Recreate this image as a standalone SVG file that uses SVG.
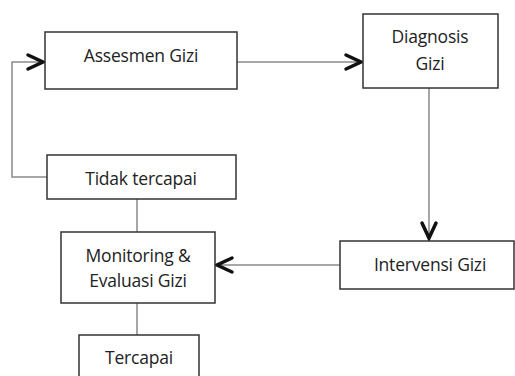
<svg xmlns="http://www.w3.org/2000/svg" width="515" height="376" viewBox="0 0 515 376">
<style>
.box{fill:#fff;stroke:#333;stroke-width:1.5}
.t{font-family:"Open Sans","Liberation Sans",sans-serif;font-size:17.5px;fill:#222;text-anchor:middle;letter-spacing:-0.2px}
.ln{fill:none;stroke:#8a8a8a;stroke-width:1.5}
.ah{fill:none;stroke:#111;stroke-width:3.5;stroke-linecap:round;stroke-linejoin:miter}
</style>
<g id="connectors">
<path class="ln" d="M47,177 H12 V62 H44"/>
<path class="ah" d="M28,55 L43,62 L28,69"/>
<path class="ln" d="M237,62 H362"/>
<path class="ah" d="M346,55 L361,62 L346,69"/>
<path class="ln" d="M429,88 V239"/>
<path class="ah" d="M422,223 L429,238 L436,223"/>
<path class="ln" d="M340,265 H217"/>
<path class="ah" d="M232,258 L217,265 L232,272"/>
<path class="ln" d="M137,199 V232"/>
<path class="ln" d="M137,303 V335"/>
</g>
<g id="assesmen"><rect class="box" x="45" y="32" width="192" height="57"/><text class="t" x="141" y="62">Assesmen Gizi</text></g>
<g id="diagnosis"><rect class="box" x="363" y="14" width="135" height="74"/><text class="t" x="430" y="43">Diagnosis</text><text class="t" x="430" y="70">Gizi</text></g>
<g id="tidak"><rect class="box" x="47" y="155" width="189" height="44"/><text class="t" x="141" y="185">Tidak tercapai</text></g>
<g id="intervensi"><rect class="box" x="340" y="241" width="174" height="48"/><text class="t" x="430" y="271">Intervensi Gizi</text></g>
<g id="monitoring"><rect class="box" x="61" y="232" width="154" height="71"/><text class="t" x="138" y="262">Monitoring &amp;</text><text class="t" x="138" y="287">Evaluasi Gizi</text></g>
<g id="tercapai"><rect class="box" x="79" y="335" width="120" height="45"/><text class="t" x="139" y="364">Tercapai</text></g>
</svg>
